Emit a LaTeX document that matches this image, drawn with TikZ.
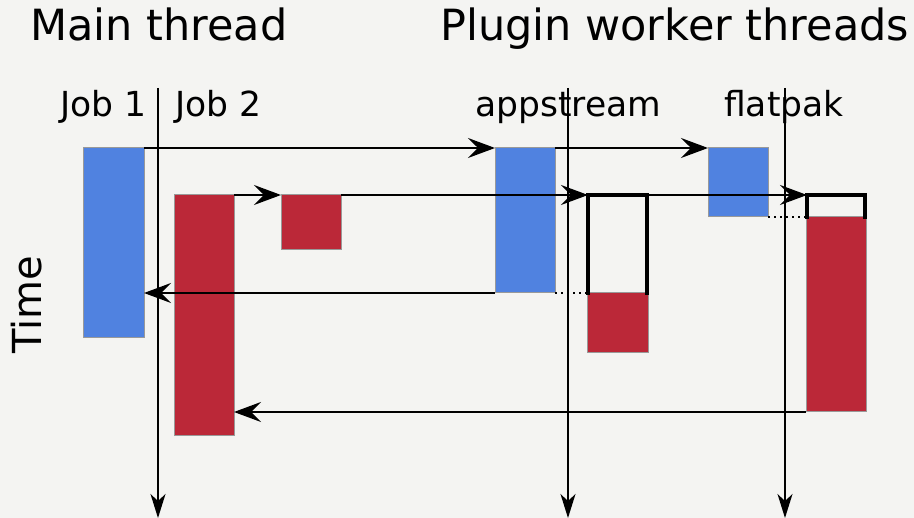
\documentclass[tikz,border=0pt]{standalone}
\usepackage{fontspec}
\setmainfont{DejaVu Sans}
\usetikzlibrary{arrows.meta}
\definecolor{bg}{HTML}{F4F4F2}
\definecolor{jobblue}{HTML}{5082E0}
\definecolor{jobred}{HTML}{BB2838}
\begin{document}
\begin{tikzpicture}[x=1pt,y=-1pt,
  blk/.style={draw=gray!80,line width=1pt,inner sep=0pt,outer sep=0pt,anchor=north west},
  bluebox/.style={blk,fill=jobblue},
  redbox/.style={blk,fill=jobred},
  emptybox/.style={inner sep=0pt,outer sep=0pt,anchor=north west},
  msg/.style={line width=1.5pt,-{Stealth[length=27pt,width=20pt,inset=10pt]}},
  timeline/.style={line width=1.3pt,-{Stealth[length=24pt,width=15pt,inset=7pt]}},
  frame/.style={line width=3.2pt,line cap=rect},
  waitline/.style={line width=1.5pt,dash pattern=on 1.5pt off 4.5pt},
  big/.style={font=\fontsize{43}{50}\selectfont,anchor=base west,inner sep=0pt},
  lbl/.style={font=\fontsize{34.5}{40}\selectfont,anchor=base west,inner sep=0pt}]
\fill[bg] (0,0) rectangle (914,518);
\useasboundingbox (0,0) rectangle (914,518);

% titles
\node[big] (tmain) at (30,41) {Main thread};
\node[big] (tplug) at (440,41) {Plugin worker threads};
\node[lbl] (job1l) at (60,117) {Job 1};
\node[lbl] (job2l) at (175,117) {Job 2};
\node[lbl] (asl) at (475,117) {appstream};
\node[lbl] (fpl) at (724,117) {flatpak};
\node[font=\fontsize{40}{46}\selectfont,rotate=90,inner sep=0pt] (time) at (27,305) {Time};

% timelines
\coordinate (mtop) at (158,88);
\coordinate (mbot) at (158,518);
\coordinate (atop) at (568,88);
\coordinate (abot) at (568,518);
\coordinate (ftop) at (785,88);
\coordinate (fbot) at (785,518);
\draw[timeline] (mtop) -- (mbot);
\draw[timeline] (atop) -- (abot);
\draw[timeline] (ftop) -- (fbot);

% boxes
\node[bluebox,minimum width=61pt,minimum height=190pt] (job1) at (83,148) {};
\node[redbox,minimum width=60pt,minimum height=241pt] (job2) at (174,195) {};
\node[redbox,minimum width=60pt,minimum height=55pt] (small) at (281,195) {};
\node[bluebox,minimum width=60pt,minimum height=145pt] (asblue) at (495,148) {};
\node[emptybox,minimum width=59pt,minimum height=98pt] (asbox) at (588,195) {};
\node[redbox,minimum width=61pt,minimum height=60pt] (asred) at (587,293) {};
\node[bluebox,minimum width=60pt,minimum height=69pt] (fpblue) at (708,148) {};
\node[emptybox,minimum width=58pt,minimum height=22pt] (fpbox) at (807,195) {};
\node[redbox,minimum width=60pt,minimum height=195pt] (fpred) at (806,217) {};

% open frames
\draw[frame] (asbox.south west) -- (asbox.north west) -- (asbox.north east) -- (asbox.south east);
\draw[frame] (fpbox.south west) -- (fpbox.north west) -- (fpbox.north east) -- (fpbox.south east);

% waits
\draw[waitline] (asblue.south east) -- (asbox.south west);
\draw[waitline] (fpblue.south east) -- (fpbox.south west);

% messages
\draw[msg] (job1.north east) -- (asblue.north west);
\draw[msg] (asblue.north east) -- (fpblue.north west);
\draw[msg] (job2.north east) -- (small.north west);
\draw[msg] (small.north east) -- (asbox.north west);
\draw[msg] (asbox.north east) -- (fpbox.north west);
\draw[msg] (asblue.south west) -- (asblue.south west -| job1.east);
\draw[msg] (fpred.south west) -- (fpred.south west -| job2.east);
\end{tikzpicture}
\end{document}
